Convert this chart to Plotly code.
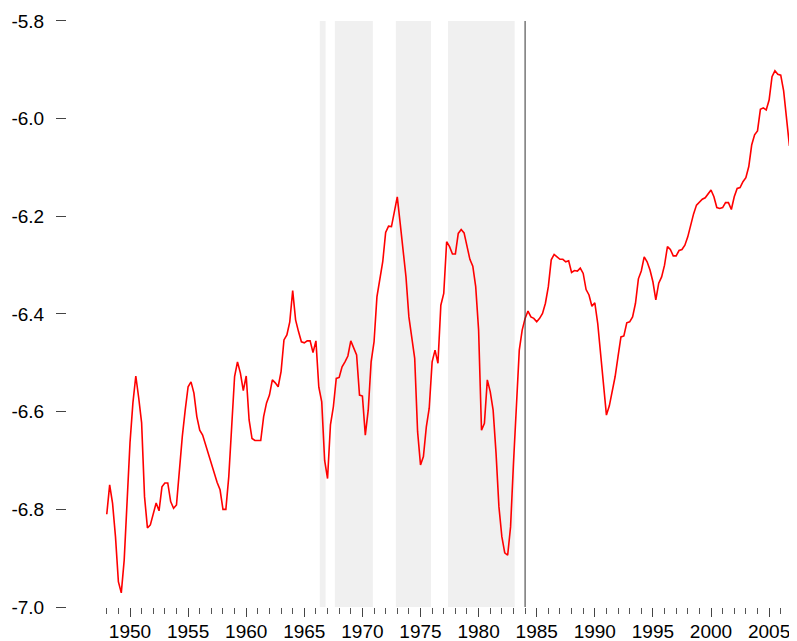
import plotly.graph_objects as go

# Quarterly series, 1948Q1 .. 2006Q4
start_year = 1948
values = [
    # 1948-1951
    -6.810, -6.750, -6.788, -6.856, -6.948, -6.971, -6.904, -6.787,
    -6.664, -6.582, -6.527, -6.572, -6.623, -6.774, -6.838, -6.832,
    # 1952-1955
    -6.812, -6.787, -6.803, -6.754, -6.746, -6.746, -6.784, -6.798,
    -6.791, -6.720, -6.651, -6.597, -6.549, -6.539, -6.562, -6.610,
    # 1956-1959
    -6.638, -6.648, -6.668, -6.685, -6.705, -6.728, -6.745, -6.760,
    -6.800, -6.800, -6.733, -6.631, -6.528, -6.498, -6.521, -6.557,
    # 1960-1963
    -6.527, -6.617, -6.655, -6.659, -6.659, -6.659, -6.610, -6.582,
    -6.566, -6.535, -6.541, -6.549, -6.518, -6.453, -6.443, -6.416,
    # 1964-1967
    -6.352, -6.412, -6.436, -6.457, -6.459, -6.455, -6.455, -6.479,
    -6.455, -6.550, -6.580, -6.700, -6.737, -6.627, -6.590, -6.532,
    # 1968-1971
    -6.530, -6.508, -6.498, -6.486, -6.455, -6.470, -6.484, -6.566,
    -6.568, -6.648, -6.597, -6.498, -6.457, -6.365, -6.324, -6.293,
    # 1972-1975
    -6.233, -6.220, -6.221, -6.194, -6.160, -6.214, -6.266, -6.324,
    -6.406, -6.453, -6.491, -6.641, -6.709, -6.692, -6.631, -6.593,
    # 1976-1979
    -6.498, -6.474, -6.501, -6.382, -6.358, -6.252, -6.262, -6.277,
    -6.277, -6.235, -6.227, -6.234, -6.262, -6.288, -6.302, -6.344,
    # 1980-1983
    -6.433, -6.638, -6.624, -6.535, -6.559, -6.597, -6.685, -6.795,
    -6.856, -6.889, -6.894, -6.836, -6.706, -6.576, -6.474, -6.433,
    # 1984-1987
    -6.409, -6.394, -6.406, -6.409, -6.416, -6.409, -6.399, -6.378,
    -6.344, -6.289, -6.278, -6.283, -6.288, -6.288, -6.293, -6.291,
    # 1988-1991
    -6.315, -6.311, -6.312, -6.306, -6.317, -6.350, -6.361, -6.384,
    -6.377, -6.419, -6.481, -6.542, -6.607, -6.588, -6.556, -6.528,
    # 1992-1995
    -6.487, -6.447, -6.445, -6.418, -6.416, -6.406, -6.378, -6.328,
    -6.312, -6.283, -6.293, -6.310, -6.334, -6.371, -6.337, -6.324,
    # 1996-1999
    -6.300, -6.262, -6.268, -6.281, -6.281, -6.270, -6.268, -6.259,
    -6.242, -6.215, -6.195, -6.177, -6.170, -6.165, -6.162, -6.155,
    # 2000-2003
    -6.146, -6.160, -6.182, -6.184, -6.182, -6.172, -6.172, -6.186,
    -6.160, -6.143, -6.141, -6.129, -6.121, -6.098, -6.054, -6.033,
    # 2004-2006
    -6.025, -5.981, -5.978, -5.982, -5.962, -5.914, -5.902, -5.909,
    -5.911, -5.943, -5.996, -6.056,
]
dates = [start_year + k / 4 for k in range(len(values))]

# Shaded episodes (start, end) and the vertical marker
shade_starts = [1966.33, 1967.63, 1972.88, 1977.37]
shade_ends = [1966.83, 1970.90, 1975.90, 1983.10]
marker_year = 1984.0

y_ticks = [-7.0, -6.8, -6.6, -6.4, -6.2, -6.0, -5.8]
y_tick_labels = ["-7.0", "-6.8", "-6.6", "-6.4", "-6.2", "-6.0", "-5.8"]
x_major = [1950, 1955, 1960, 1965, 1970, 1975, 1980, 1985, 1990, 1995, 2000, 2005]
x_minor = list(range(1948, 2007))

font_family = "Liberation Sans, Arial, Helvetica, sans-serif"

fig = go.Figure()
fig.add_trace(go.Scatter(x=dates, y=values, mode="lines",
                         line=dict(color="#ff0000", width=1.6),
                         hoverinfo="skip", showlegend=False))

for s, e in zip(shade_starts, shade_ends):
    fig.add_shape(type="rect", xref="x", yref="y", x0=s, x1=e,
                  y0=y_ticks[0], y1=y_ticks[-1],
                  fillcolor="#f0f0f0", line=dict(width=0), layer="below")
fig.add_shape(type="line", xref="x", yref="y", x0=marker_year, x1=marker_year,
              y0=y_ticks[0], y1=y_ticks[-1],
              line=dict(color="#333333", width=1), layer="above")

# the page body adds an 8px offset, so the figure is sized to fit the window
fig.update_layout(
    width=789, height=633,
    margin=dict(l=59, r=0, t=0, b=34, autoexpand=False),
    paper_bgcolor="white", plot_bgcolor="white",
    font=dict(family=font_family, size=19, color="black"),
    showlegend=False,
)
fig.update_xaxes(
    range=[1944.578, 2007.40], automargin=False,
    showgrid=False, zeroline=False, showline=False,
    tickmode="array", tickvals=x_major, ticktext=[str(v) for v in x_major],
    ticks="outside", ticklen=9, tickwidth=1, tickcolor="#444444",
    minor=dict(tickmode="array", tickvals=x_minor, ticks="outside",
               ticklen=6, tickwidth=1, tickcolor="#555555", showgrid=False),
    tickfont=dict(size=19), ticklabelstandoff=-2,
)
fig.update_yaxes(
    range=[-7.0, -5.7734], automargin=False,
    showgrid=False, zeroline=False, showline=False,
    tickmode="array", tickvals=y_ticks, ticktext=y_tick_labels,
    ticks="outside", ticklen=10, tickwidth=1, tickcolor="#444444",
    tickfont=dict(size=19), ticklabelstandoff=8,
)

fig.write_html("out.html")
